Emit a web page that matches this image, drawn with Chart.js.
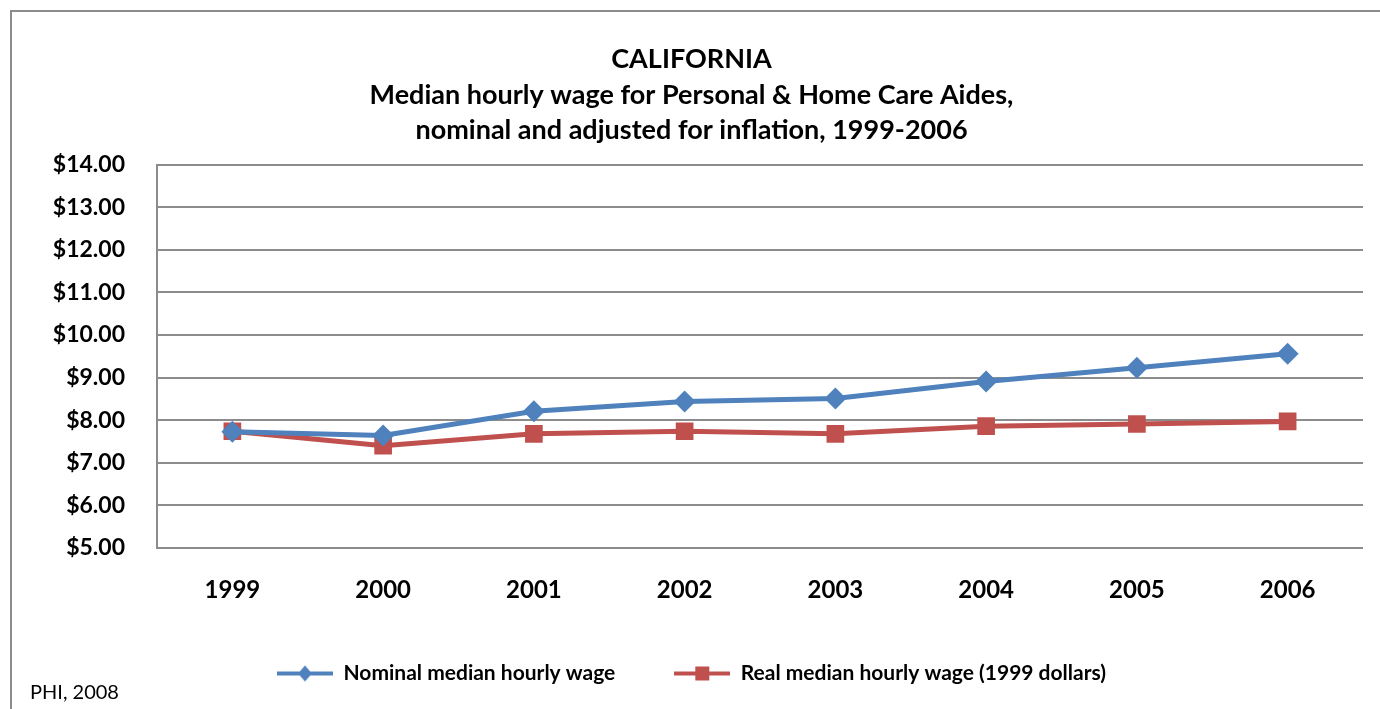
<!DOCTYPE html>
<html>
<head>
<meta charset="utf-8">
<script src="https://cdn.jsdelivr.net/npm/chart.js@4"></script>
<style>
  body { margin: 0; background: #fff; }
  #wrap { position: relative; width: 1380px; height: 709px; overflow: hidden; }
  #frame { position: absolute; left: 10px; top: 10px; width: 1400px; height: 740px; border: 2px solid #8c8c8c; box-sizing: border-box; }
  #chartBox { position: absolute; left: 0; top: 0; width: 1380px; height: 709px; }
  #source { position: absolute; left: 30px; top: 679px; font-family: Lato, "Open Sans", sans-serif; font-size: 20px; line-height: 24px; color: #000; }
</style>
</head>
<body>
<div id="wrap">
  <div id="frame"></div>
  <div id="chartBox"><canvas id="wageChart"></canvas></div>
  <div id="source">PHI, 2008</div>
</div>
<script>
const years = ["1999", "2000", "2001", "2002", "2003", "2004", "2005", "2006"];
const nominalWage = [7.73, 7.64, 8.21, 8.44, 8.51, 8.91, 9.23, 9.56];
const realWage = [7.74, 7.40, 7.68, 7.74, 7.68, 7.86, 7.91, 7.97];
const yTicks = [5, 6, 7, 8, 9, 10, 11, 12, 13, 14];

const blue = "#4F81BD";
const red = "#C0504D";
const fontFam = "Lato, 'Open Sans', sans-serif";

// legend icon: line with marker in the middle
function legendIcon(color, shape) {
  const c = document.createElement("canvas");
  c.width = 56;
  c.height = 20;
  const g = c.getContext("2d");
  g.strokeStyle = color;
  g.lineWidth = 4;
  g.beginPath();
  g.moveTo(0, 10);
  g.lineTo(56, 10);
  g.stroke();
  g.fillStyle = color;
  g.beginPath();
  if (shape === "diamond") {
    g.moveTo(28, 2);
    g.lineTo(35, 10);
    g.lineTo(28, 18);
    g.lineTo(21, 10);
  } else {
    g.rect(21, 3, 14, 14);
  }
  g.closePath();
  g.fill();
  return c;
}

const icons = [legendIcon(blue, "diamond"), legendIcon(red, "square")];

new Chart(document.getElementById("wageChart"), {
  type: "line",
  data: {
    labels: years,
    datasets: [
      {
        label: "Nominal median hourly wage",
        data: nominalWage,
        borderColor: blue,
        backgroundColor: blue,
        borderWidth: 5,
        pointStyle: "rectRot",
        pointRadius: 11,
        pointBorderWidth: 0,
        tension: 0,
      },
      {
        label: "Real median hourly wage (1999 dollars)",
        data: realWage,
        borderColor: red,
        backgroundColor: red,
        borderWidth: 5,
        pointStyle: "rect",
        pointRadius: 12.5,
        pointBorderWidth: 0,
        tension: 0,
      },
    ],
  },
  options: {
    responsive: true,
    maintainAspectRatio: false,
    animation: false,
    layout: { padding: { left: 20, right: 17, top: 30, bottom: 15 } },
    plugins: {
      title: {
        display: true,
        text: [
          "CALIFORNIA",
          "Median hourly wage for Personal & Home Care Aides,",
          "nominal and adjusted for inflation, 1999-2006",
        ],
        color: "#000",
        font: { family: fontFam, size: 27, weight: "bold", lineHeight: 1.315 },
        padding: { top: 12, bottom: 16 },
      },
      legend: {
        position: "bottom",
        labels: {
          usePointStyle: true,
          pointStyleWidth: 56,
          color: "#000",
          font: { family: fontFam, size: 21, weight: "bold" },
          padding: 59,
          generateLabels: (chart) =>
            chart.data.datasets.map((ds, i) => ({
              text: ds.label,
              pointStyle: icons[i],
              fillStyle: ds.borderColor,
              strokeStyle: ds.borderColor,
              lineWidth: 0,
              datasetIndex: i,
            })),
        },
      },
      tooltip: { enabled: false },
    },
    scales: {
      x: {
        offset: true,
        grid: { display: false, drawTicks: false },
        border: { display: false },
        ticks: {
          color: "#000",
          padding: 28,
          font: { family: fontFam, size: 24, weight: "bold" },
        },
        afterFit: (s) => { s.height = 56; },
      },
      y: {
        min: 5,
        max: 14,
        afterBuildTicks: (s) => { s.ticks = yTicks.map((v) => ({ value: v })); },
        grid: { color: "#8c8c8c", lineWidth: 2, drawTicks: false },
        border: { display: true, color: "#8c8c8c", width: 2 },
        ticks: {
          color: "#000",
          padding: 32,
          font: { family: fontFam, size: 23, weight: "bold" },
          callback: (v) => "$" + Number(v).toFixed(2),
        },
        afterFit: (s) => { s.width = 137; },
      },
    },
  },
});
</script>
</body>
</html>
